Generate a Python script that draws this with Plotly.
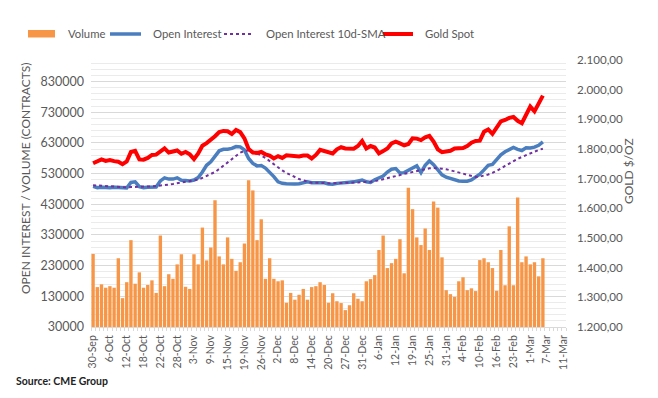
import plotly.graph_objects as go
import pandas as pd

# ---------------- data ----------------
holidays = ["2021-11-25", "2021-12-24", "2022-01-17", "2022-02-21"]
all_days = [d for d in pd.bdate_range("2021-09-30", "2022-03-11") if d.strftime("%Y-%m-%d") not in holidays]
categories = [f"{d.day}-{d.strftime('%b')}" for d in all_days]  # 113 trading days

tick_labels = ["30-Sep", "6-Oct", "12-Oct", "18-Oct", "22-Oct", "28-Oct", "3-Nov", "9-Nov", "15-Nov",
               "19-Nov", "26-Nov", "2-Dec", "8-Dec", "14-Dec", "20-Dec", "27-Dec", "31-Dec", "6-Jan",
               "12-Jan", "19-Jan", "25-Jan", "31-Jan", "4-Feb", "10-Feb", "16-Feb", "23-Feb", "1-Mar",
               "7-Mar", "11-Mar"]

volume = [
    268000, 160000, 169000, 158000, 163000, 158000, 254000, 124000, 176000, 313000,
    171000, 208000, 158000, 167000, 182000, 141000, 328000, 163000, 202000, 187000,
    234000, 267000, 161000, 154000, 267000, 234000, 354000, 247000, 289000, 443000,
    260000, 234000, 322000, 252000, 213000, 241000, 302000, 508000, 475000, 313000,
    381000, 187000, 254000, 187000, 179000, 182000, 109000, 141000, 119000, 135000,
    154000, 119000, 160000, 163000, 176000, 167000, 109000, 140000, 114000, 108000,
    85000, 101000, 140000, 122000, 114000, 179000, 186000, 199000, 281000, 328000,
    222000, 238000, 252000, 316000, 205000, 484000, 414000, 322000, 297000, 351000,
    281000, 439000, 419000, 257000, 150000, 137000, 128000, 179000, 192000, 150000,
    156000, 147000, 248000, 254000, 241000, 222000, 148000, 281000, 166000, 358000,
    166000, 452000, 241000, 260000, 234000, 241000, 195000, 254000]

open_interest = [
    488000, 484000, 485000, 484000, 484000, 485000, 484000, 484000, 483000, 501000,
    503000, 487000, 484000, 485000, 485000, 486000, 506000, 516000, 512000, 512000,
    516000, 508000, 507000, 506000, 509000, 517000, 535000, 557000, 568000, 588000,
    604000, 609000, 609000, 612000, 618000, 617000, 607000, 579000, 563000, 555000,
    556000, 548000, 535000, 520000, 503000, 498000, 497000, 496000, 496000, 497000,
    501000, 503000, 500000, 500000, 501000, 500000, 496000, 495000, 498000, 500000,
    501000, 502000, 503000, 505000, 509000, 503000, 501000, 510000, 516000, 522000,
    535000, 544000, 546000, 532000, 533000, 539000, 548000, 555000, 533000, 557000,
    571000, 559000, 542000, 526000, 518000, 514000, 508000, 506000, 505000, 505000,
    509000, 518000, 528000, 542000, 557000, 560000, 575000, 591000, 601000, 609000,
    615000, 609000, 605000, 614000, 613000, 616000, 622000, 633000]

oi_sma10 = [
    492000, 491000, 491000, 490000, 489000, 488000, 487000, 486000, 485000, 486000,
    487000, 487000, 488000, 488000, 488000, 489000, 491000, 493000, 494000, 496000,
    498000, 501000, 503000, 505000, 507000, 510000, 516000, 522000, 528000, 535000,
    545000, 555000, 566000, 577000, 588000, 598000, 604000, 605000, 602000, 596000,
    589000, 581000, 570000, 559000, 549000, 540000, 532000, 525000, 518000, 512000,
    508000, 504000, 500000, 500000, 499000, 498000, 498000, 498000, 499000, 499000,
    500000, 500000, 501000, 501000, 502000, 502000, 503000, 505000, 508000, 511000,
    515000, 518000, 522000, 525000, 529000, 532000, 535000, 538000, 542000, 545000,
    547000, 548000, 548000, 546000, 544000, 541000, 538000, 534000, 530000, 526000,
    522000, 519000, 520000, 523000, 527000, 532000, 538000, 546000, 555000, 563000,
    571000, 578000, 584000, 590000, 596000, 602000, 607000, 611000]

gold_spot = [
    1752, 1758, 1765, 1760, 1763, 1759, 1757, 1749, 1758, 1790,
    1794, 1765, 1764, 1770, 1780, 1781, 1790, 1802, 1788, 1793,
    1795, 1784, 1790, 1782, 1766, 1785, 1811, 1820, 1830, 1843,
    1857, 1861, 1860, 1851, 1864, 1857, 1836, 1800, 1788, 1787,
    1790, 1782, 1778, 1768, 1776, 1770, 1779, 1778, 1777, 1775,
    1778, 1778, 1768, 1780, 1797, 1792, 1787, 1785, 1799, 1806,
    1802, 1802, 1801, 1810, 1827, 1802, 1810, 1805, 1785, 1793,
    1802, 1819, 1825, 1819, 1812, 1817, 1836, 1835, 1830, 1839,
    1844, 1825, 1799, 1789, 1790, 1794, 1802, 1804, 1803, 1810,
    1821, 1827, 1828, 1858, 1866, 1851, 1875, 1893, 1898, 1905,
    1908, 1895, 1887, 1912, 1943, 1927, 1955, 1980]

# ---------------- figure ----------------
n = len(volume)
x = list(range(n))
tick_pos = [categories.index(t) for t in tick_labels]

FONT = "Lato, 'Open Sans', sans-serif"
TXT = "#595959"
OFF = 8  # page body margin

fig = go.Figure()
fig.add_trace(go.Bar(x=x, y=volume, name="Volume", marker=dict(color="#F79646", line_width=0),
                     yaxis="y"))
fig.add_trace(go.Scatter(x=x, y=open_interest, name="Open Interest", mode="lines",
                         line=dict(color="#4A7EBF", width=3.5), yaxis="y"))
fig.add_trace(go.Scatter(x=x, y=oi_sma10, name="Open Interest 10d-SMA", mode="lines",
                         line=dict(color="#7030A0", width=2, dash="dot"), yaxis="y"))
fig.add_trace(go.Scatter(x=x, y=gold_spot, name="Gold Spot", mode="lines",
                         line=dict(color="#FF0000", width=4), yaxis="y2"))

W, H = 658 - OFF, 398 - OFF
L, R, T, B = 91, 566, 60, 327  # plot area in window pixels


def px(xp):
    return (xp - L) / (R - L)


def py(yp):
    return (B - yp) / (B - T)


shapes = [
    dict(type="rect", xref="paper", yref="paper", x0=px(28), x1=px(55), y0=py(37.5), y1=py(30),
         fillcolor="#F79646", line_width=0),
    dict(type="line", xref="paper", yref="paper", x0=px(110), x1=px(141), y0=py(34), y1=py(34),
         line=dict(color="#4A7EBF", width=3.5)),
    dict(type="line", xref="paper", yref="paper", x0=px(224), x1=px(253), y0=py(34), y1=py(34),
         line=dict(color="#7030A0", width=2, dash="dot")),
    dict(type="line", xref="paper", yref="paper", x0=px(383), x1=px(413), y0=py(34), y1=py(34),
         line=dict(color="#FF0000", width=4)),
]

legend_text = [("Volume", 66), ("Open Interest", 151), ("Open Interest 10d-SMA", 264), ("Gold Spot", 423)]
annotations = [dict(text=t, x=px(xx), y=py(34), xref="paper", yref="paper", xanchor="left",
                    yanchor="middle", showarrow=False, font=dict(size=11.3, color=TXT, family=FONT))
               for t, xx in legend_text]
annotations += [
    dict(text="OPEN INTEREST / VOLUME (CONTRACTS)", x=px(25), y=py(178), xref="paper", yref="paper",
         textangle=-90, showarrow=False, xanchor="center", yanchor="middle",
         font=dict(size=12, color=TXT, family=FONT)),
    dict(text="GOLD $/OZ", x=px(628), y=py(171), xref="paper", yref="paper",
         textangle=-90, showarrow=False, xanchor="center", yanchor="middle",
         font=dict(size=12, color=TXT, family=FONT)),
    dict(text="<b>Source: CME Group</b>", x=px(14), y=py(381), xref="paper", yref="paper",
         showarrow=False, xanchor="left", yanchor="middle",
         font=dict(size=10.5, color="#222222", family=FONT)),
]

fig.update_layout(
    width=W, height=H,
    margin=dict(l=L - OFF, r=658 - R, t=T - OFF, b=398 - B, pad=0),
    paper_bgcolor="white", plot_bgcolor="white",
    showlegend=False,
    bargap=0.2,
    separators=",.",
    font=dict(family=FONT, color=TXT),
    shapes=shapes, annotations=annotations,
    xaxis=dict(range=[-0.5, len(categories) - 0.5], tickmode="array", tickvals=tick_pos,
               ticktext=tick_labels, tickangle=-90, tickfont=dict(size=10.5, color=TXT),
               showgrid=False, zeroline=False, showline=True, linecolor="#d9d9d9", linewidth=1,
               ticks="", ticklabelstandoff=3,
               minor=dict(ticks="outside", tick0=-0.5, dtick=1, ticklen=3, tickcolor="#d9d9d9",
                          showgrid=False)),
    yaxis=dict(range=[30000, 900000], tick0=30000, dtick=100000, tickformat="d",
               tickfont=dict(size=12.5, color=TXT), showgrid=True, gridcolor="#d9d9d9",
               zeroline=False, showline=False, ticks="", ticklabelstandoff=6,
               minor=dict(tick0=30000, dtick=20000, showgrid=True, gridcolor="#ebebeb")),
    yaxis2=dict(range=[1200, 2100], dtick=100, tick0=1200, tickformat=",.2f", overlaying="y",
                side="right", showgrid=False, zeroline=False, showline=False, ticks="",
                tickfont=dict(size=11.6, color=TXT), ticklabelstandoff=10),
)

fig.write_html("out.html")
